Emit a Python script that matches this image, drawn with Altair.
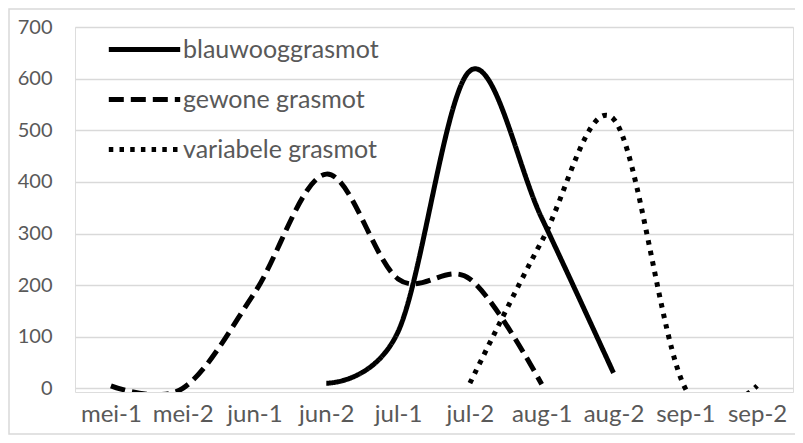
import altair as alt
import pandas as pd

categories = ["mei-1", "mei-2", "jun-1", "jun-2", "jul-1", "jul-2", "aug-1", "aug-2", "sep-1", "sep-2"]
series_names = ["blauwooggrasmot", "gewone grasmot", "variabele grasmot"]
blauwooggrasmot = [None, None, None, 10, 110, 615, 330, 30, None, None]
gewone_grasmot = [5, 0, 185, 415, 212, 212, 8, None, None, None]
variabele_grasmot = [None, None, None, None, None, 10, 285, 522, 0, 5]
y_ticks = [0, 100, 200, 300, 400, 500, 600, 700]

rows = []
for name, vals in zip(series_names, [blauwooggrasmot, gewone_grasmot, variabele_grasmot]):
    for i, (c, v) in enumerate(zip(categories, vals)):
        if v is not None:
            rows.append({"week": c, "idx": i, "serie": name, "aantal": v})
df = pd.DataFrame(rows)

TEXT = "#595959"
GRID = "#d9d9d9"
FONT = "Lato"

lines = alt.Chart(df).mark_line(
    interpolate="cardinal", tension=0, color="black", strokeWidth=5, clip=True
).encode(
    x=alt.X("week:N", sort=categories,
            scale=alt.Scale(type="point", domain=categories, padding=0.5),
            axis=alt.Axis(title=None, labelAngle=0, ticks=False, tickSize=0, labelPadding=10,
                          domain=False, grid=False,
                          labelFont=FONT, labelFontSize=24, labelColor=TEXT)),
    y=alt.Y("aantal:Q", scale=alt.Scale(domain=[-7, 700], nice=False, zero=False),
            axis=alt.Axis(title=None, values=y_ticks, ticks=False, tickSize=0, labelPadding=23,
                          domain=False, grid=True, gridColor=GRID, gridWidth=1.5,
                          labelFont=FONT, labelFontSize=20, labelColor=TEXT)),
    strokeDash=alt.StrokeDash("serie:N",
                              scale=alt.Scale(domain=series_names,
                                              range=[[1, 0], [15, 7], [4.5, 6.2]]),
                              legend=alt.Legend(title=None, orient="none", legendX=41.5, legendY=-5.5,
                                                symbolType="M-1.4,0H1.4", symbolSize=2601,
                                                symbolStrokeWidth=5, symbolStrokeColor="black",
                                                labelFont=FONT, labelFontSize=25, labelColor=TEXT,
                                                labelOffset=10.5, rowPadding=9, padding=0,
                                                labelLimit=400)),
    order=alt.Order("idx:Q"),
)

border = alt.Chart(pd.DataFrame({"k": [0]})).mark_rect(
    fill="transparent", stroke=GRID, strokeWidth=1.5
).encode(x=alt.value(-66), x2=alt.value(730), y=alt.value(-18), y2=alt.value(407))

chart = alt.layer(border, lines).properties(
    width=718, height=365,
    autosize=alt.AutoSizeParams(type="none"),
    padding={"left": 67, "top": 19, "right": 2, "bottom": 43},
).configure_view(stroke="transparent").configure(font=FONT)

chart.save("out.html", embed_options={"renderer": "svg", "actions": False})
